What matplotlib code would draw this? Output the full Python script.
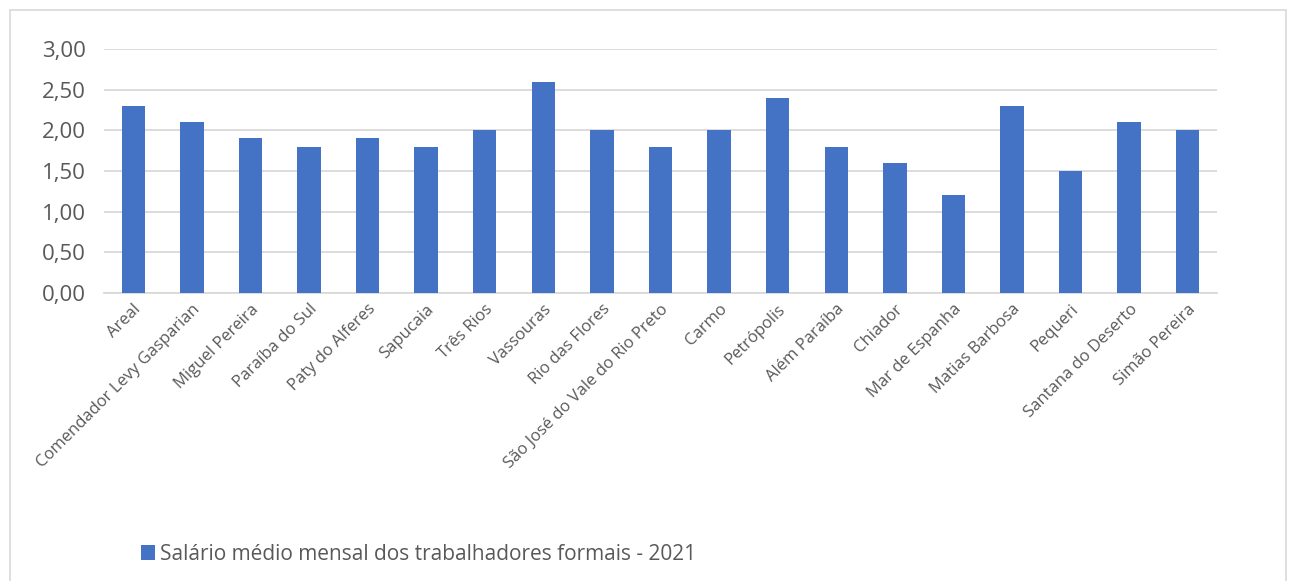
import matplotlib.pyplot as plt
from matplotlib.patches import Rectangle
from matplotlib.ticker import FuncFormatter

municipios = ["Areal", "Comendador Levy Gasparian", "Miguel Pereira", "Paraíba do Sul",
              "Paty do Alferes", "Sapucaia", "Três Rios", "Vassouras", "Rio das Flores",
              "São José do Vale do Rio Preto", "Carmo", "Petrópolis", "Além Paraíba",
              "Chiador", "Mar de Espanha", "Matias Barbosa", "Pequeri",
              "Santana do Deserto", "Simão Pereira"]
salario = [2.3, 2.1, 1.9, 1.8, 1.9, 1.8, 2.0, 2.6, 2.0, 1.8,
           2.0, 2.4, 1.8, 1.6, 1.2, 2.3, 1.5, 2.1, 2.0]
serie = "Salário médio mensal dos trabalhadores formais - 2021"

plt.rcParams['font.family'] = ['Open Sans', 'DejaVu Sans']
azul = "#4472C4"
cinza = "#595959"

fig = plt.figure(figsize=(12.96, 5.81), dpi=100)
W, H = 1296, 581
ax = fig.add_axes([104 / W, 1 - 293 / H, (1217 - 104) / W, (293 - 49) / H])

x = range(len(municipios))
ax.bar(x, salario, width=0.4, color=azul, zorder=3, label=serie)

ax.set_xlim(-0.5, len(municipios) - 0.5)
ax.set_ylim(0, 3)
ax.set_yticks([i * 0.5 for i in range(7)])
ax.yaxis.set_major_formatter(FuncFormatter(lambda v, p: f"{v:.2f}".replace(".", ",")))
ax.grid(axis="y", color="#D9D9D9", linewidth=1.3, zorder=0)
for s in ["top", "right", "left"]:
    ax.spines[s].set_visible(False)
ax.spines["bottom"].set_color("#D9D9D9")
ax.spines["bottom"].set_linewidth(1.3)
ax.tick_params(axis="y", length=0, labelsize=16, labelcolor=cinza, pad=13)
ax.tick_params(axis="x", length=0, labelsize=12, labelcolor=cinza, pad=6)
ax.set_xticks(list(x))
ax.set_xticklabels(municipios, rotation=45, ha="right", rotation_mode="anchor")

ax.legend(loc="lower left", bbox_to_anchor=(133 / W, 8 / H), bbox_transform=fig.transFigure,
          frameon=False, fontsize=15, labelcolor=cinza, handlelength=0.65,
          handleheight=0.7, handletextpad=0.25, borderaxespad=0)

# moldura do gráfico
fig.patches.append(Rectangle((10 / W, -0.05), (1286 - 10) / W, 1.05 - 10 / H,
                             transform=fig.transFigure, fill=False,
                             edgecolor="#D9D9D9", linewidth=1.2))

fig.savefig("out.png", dpi=100)
